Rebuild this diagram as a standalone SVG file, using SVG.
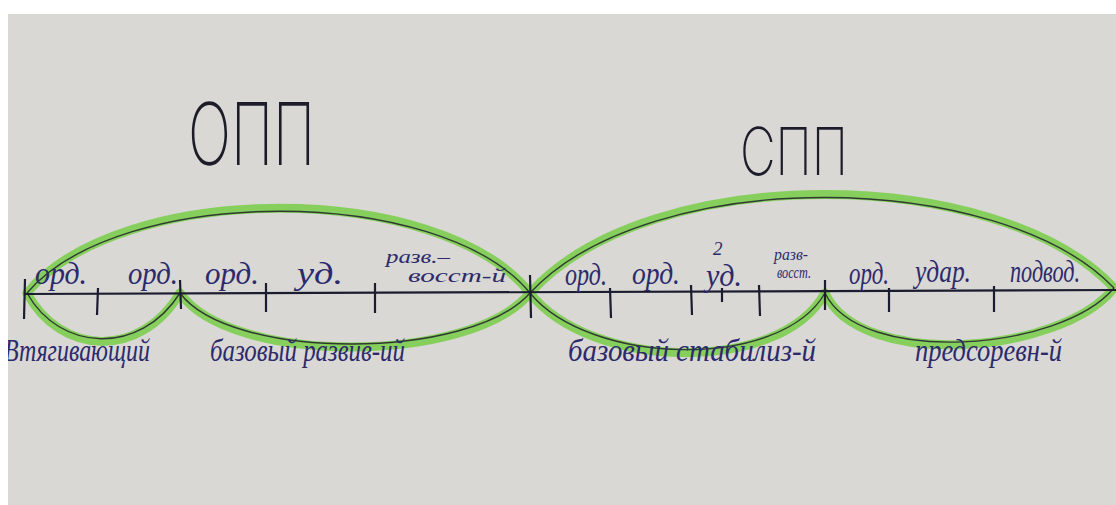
<svg xmlns="http://www.w3.org/2000/svg" width="1116" height="505" viewBox="0 0 1116 505">
<defs>
<style>
.green{fill:none;stroke:#82cf55;stroke-width:9;stroke-linecap:round;opacity:0.95}
.pencil{fill:none;stroke:#2f3a33;stroke-width:1.4}
.axis{stroke:#1c1c30;stroke-width:2.2;fill:none}
.tick{stroke:#1c1c30;stroke-width:2.2}
.lbl{font-family:"Liberation Serif","DejaVu Serif",serif;font-style:italic;fill:#2c2a6c;font-size:31px}
.sm{font-size:19px}
.xs{font-size:16px}
.title{font-family:"Inter","Lato","DejaVu Sans",sans-serif;fill:#1d1d2a;font-weight:200}
</style>
</defs>
<rect x="0" y="0" width="1116" height="505" fill="#d9d8d4"/>

<g id="connectors">
<g id="arcs-green">
<path class="green" d="M27,293 C120,180 440,180 530,293"/>
<path class="green" d="M530,293 C650,160 1000,165 1114,288"/>
<path class="green" d="M27,293 C60,355 140,360 180,293"/>
<path class="green" d="M180,293 C230,365 470,365 530,293"/>
<path class="green" d="M530,293 C590,370 780,375 825,293"/>
<path class="green" d="M825,293 C860,370 1060,355 1114,288"/>
</g>
<g id="arcs-pencil">
<path class="pencil" d="M27,293 C120,184 440,184 530,293"/>
<path class="pencil" d="M530,293 C650,164 1000,169 1114,288"/>
<path class="pencil" d="M27,293 C60,352 140,356 180,293"/>
<path class="pencil" d="M180,293 C230,361 470,361 530,293"/>
<path class="pencil" d="M530,293 C590,366 780,371 825,293"/>
<path class="pencil" d="M825,293 C860,366 1060,352 1114,288"/>
</g>
<path id="axis" class="axis" d="M25,294 L1116,290"/>
<g id="ticks">
<line class="tick" x1="25" y1="279" x2="24" y2="319"/>
<line class="tick" x1="98" y1="288" x2="97" y2="315"/>
<line class="tick" x1="180" y1="280" x2="181" y2="309"/>
<line class="tick" x1="266" y1="283" x2="266" y2="312"/>
<line class="tick" x1="375" y1="283" x2="375" y2="313"/>
<line class="tick" x1="530" y1="275" x2="531" y2="318"/>
<line class="tick" x1="610" y1="288" x2="611" y2="318"/>
<line class="tick" x1="691" y1="285" x2="692" y2="315"/>
<line class="tick" x1="722" y1="288" x2="722" y2="302"/>
<line class="tick" x1="759" y1="285" x2="760" y2="316"/>
<line class="tick" x1="825" y1="280" x2="825" y2="310"/>
<line class="tick" x1="889" y1="288" x2="889" y2="312"/>
<line class="tick" x1="994" y1="286" x2="994" y2="312"/>
</g>
</g>

<g id="title-opp"><text class="title" x="188" y="165" font-size="86" textLength="127" lengthAdjust="spacingAndGlyphs">ОПП</text></g>
<g id="title-spp"><text class="title" x="740" y="175" font-size="66" textLength="108" lengthAdjust="spacingAndGlyphs">СПП</text></g>

<g id="opp-labels">
<text class="lbl" x="35" y="284" textLength="52" lengthAdjust="spacingAndGlyphs">орд.</text>
<text class="lbl" x="128" y="284" textLength="50" lengthAdjust="spacingAndGlyphs">орд.</text>
<text class="lbl" x="205" y="284" textLength="54" lengthAdjust="spacingAndGlyphs">орд.</text>
<text class="lbl" x="297" y="284" textLength="46" lengthAdjust="spacingAndGlyphs">уд.</text>
<text class="lbl sm" x="386" y="263" textLength="64" lengthAdjust="spacingAndGlyphs">разв.–</text>
<text class="lbl sm" x="408" y="282" textLength="98" lengthAdjust="spacingAndGlyphs">восст-й</text>
</g>

<g id="spp-labels">
<text class="lbl" x="565" y="285" textLength="42" lengthAdjust="spacingAndGlyphs">орд.</text>
<text class="lbl" x="632" y="284" textLength="48" lengthAdjust="spacingAndGlyphs">орд.</text>
<text class="lbl sm" x="713" y="255">2</text>
<text class="lbl" x="706" y="286" textLength="36" lengthAdjust="spacingAndGlyphs">уд.</text>
<text class="lbl xs" x="774" y="260" textLength="34" lengthAdjust="spacingAndGlyphs">разв-</text>
<text class="lbl xs" x="777" y="278" textLength="34" lengthAdjust="spacingAndGlyphs">восст.</text>
<text class="lbl" x="849" y="284" textLength="40" lengthAdjust="spacingAndGlyphs">орд.</text>
<text class="lbl" x="915" y="282" textLength="56" lengthAdjust="spacingAndGlyphs">удар.</text>
<text class="lbl" x="1010" y="282" textLength="70" lengthAdjust="spacingAndGlyphs">подвод.</text>
</g>

<g id="bottom-labels">
<text class="lbl" x="4" y="361" textLength="146" lengthAdjust="spacingAndGlyphs">Втягивающий</text>
<text class="lbl" x="210" y="361" textLength="195" lengthAdjust="spacingAndGlyphs">базовый развив-ий</text>
<text class="lbl" x="568" y="361" textLength="248" lengthAdjust="spacingAndGlyphs">базовый стабилиз-й</text>
<text class="lbl" x="915" y="361" textLength="147" lengthAdjust="spacingAndGlyphs">предсоревн-й</text>
</g>

<g id="scan-border">
<rect x="0" y="0" width="1116" height="14" fill="#ffffff"/>
<rect x="0" y="0" width="8" height="505" fill="#ffffff"/>
</g>
</svg>
